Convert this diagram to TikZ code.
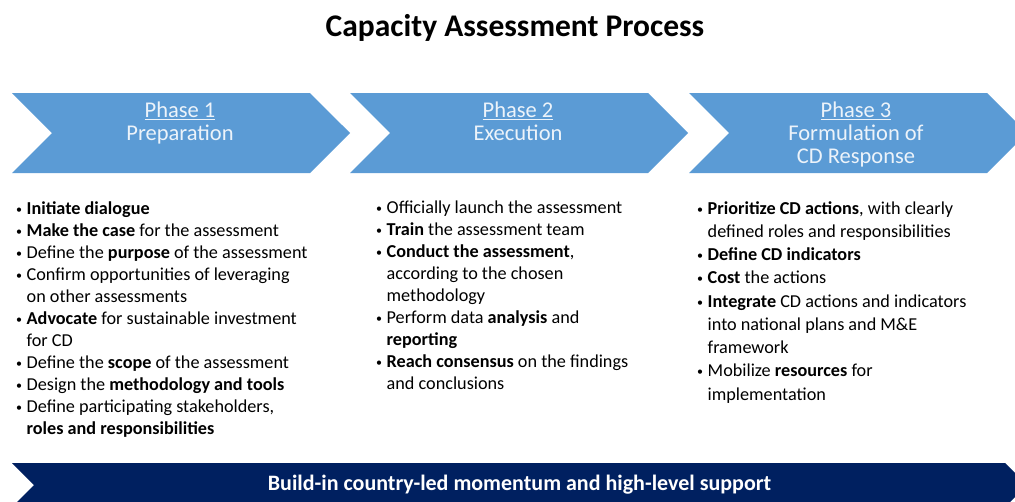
\documentclass[tikz,border=0pt]{standalone}
\usepackage{fontspec}
\setmainfont{Carlito}
\usetikzlibrary{positioning,shapes.symbols}

\definecolor{phaseblue}{RGB}{91,155,213}
\definecolor{navybar}{RGB}{0,32,96}
\definecolor{phasetext}{RGB}{236,243,250}

\newcommand{\bul}{\makebox[11.5pt][l]{\hspace*{1pt}\raisebox{1pt}{\fontsize{12}{12}\selectfont\textbullet}}}
\newcommand{\cont}{\hspace*{11.5pt}}

\begin{document}
\begin{tikzpicture}[x=1pt, y=-1pt,
    phase/.style={signal, signal to=east, signal from=west, signal pointer angle=90,
        fill=phaseblue, minimum width=338pt, minimum height=80pt, inner sep=0pt, outer sep=0pt},
    phasetitle/.style={text=phasetext, font=\fontsize{22.5}{22.8}\selectfont, align=center,
        anchor=north, inner sep=0pt},
    steps/.style={anchor=north west, align=left, inner sep=0pt, font=\fontsize{18.2}{22}\selectfont}]

    \useasboundingbox (0,0) rectangle (1015,501);
    \clip (0,0) rectangle (1015,501);

    \node[font=\bfseries\fontsize{31.5}{34}\selectfont] (title) at (515,28) {Capacity Assessment Process};

    % phase chevrons
    \node[phase] (ph1) at (181,133) {};
    \node[phase] (ph2) at (519,133) {};
    \node[phase] (ph3) at (858,133) {};

    \node[phasetitle] (ph1t) at (180,102) {\underline{Phase 1}\\Preparation};
    \node[phasetitle] (ph2t) at (518,102) {\underline{Phase 2}\\Execution};
    \node[phasetitle] (ph3t) at (856,102) {\underline{Phase 3}\\Formulation of\\CD Response};

    % steps of each phase
    \node[steps] (ph1s) at (15,201) {%
        \bul\textbf{Initiate dialogue}\\
        \bul\textbf{Make the case} for the assessment\\
        \bul Define the \textbf{purpose} of the assessment\\
        \bul Confirm opportunities of leveraging\\
        \cont on other assessments\\
        \bul\textbf{Advocate} for sustainable investment\\
        \cont for CD\\
        \bul Define the \textbf{scope} of the assessment\\
        \bul Design the \textbf{methodology and tools}\\
        \bul Define participating stakeholders,\\
        \cont\textbf{roles and responsibilities}};

    \node[steps] (ph2s) at (375,201) {%
        \bul Officially launch the assessment\\
        \bul\textbf{Train} the assessment team\\
        \bul\textbf{Conduct the assessment},\\
        \cont according to the chosen\\
        \cont methodology\\
        \bul Perform data \textbf{analysis} and\\
        \cont\textbf{reporting}\\
        \bul\textbf{Reach consensus} on the findings\\
        \cont and conclusions};

    \node[steps, font=\fontsize{18.2}{23.25}\selectfont] (ph3s) at (696,201) {%
        \bul\textbf{Prioritize CD actions}, with clearly\\
        \cont defined roles and responsibilities\\
        \bul\textbf{Define CD indicators}\\
        \bul\textbf{Cost} the actions\\
        \bul\textbf{Integrate} CD actions and indicators\\
        \cont into national plans and M\&E\\
        \cont framework\\
        \bul Mobilize \textbf{resources} for\\
        \cont implementation};

    % support bar
    \node[signal, signal to=east, signal from=west, signal pointer angle=90, fill=navybar,
        minimum width=1015pt, minimum height=44pt, inner sep=0pt,
        text=white, font=\bfseries\fontsize{22}{24}\selectfont] (support) at (519.5,485)
        {Build-in country-led momentum and high-level support};

\end{tikzpicture}
\end{document}
